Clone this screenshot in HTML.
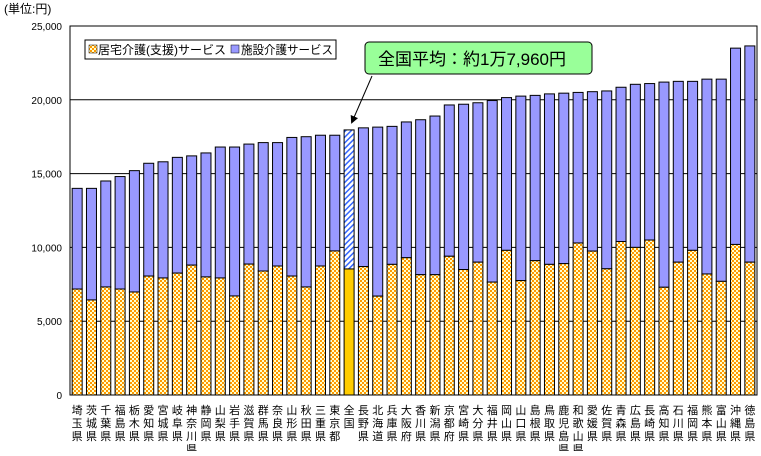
<!DOCTYPE html>
<html><head><meta charset="utf-8"><style>
body{margin:0;background:#fff;width:761px;height:451px;overflow:hidden;font-family:"Liberation Sans","Noto Sans CJK JP",sans-serif}
</style></head><body>
<svg id="chart" width="761" height="451" xmlns="http://www.w3.org/2000/svg" style="font-family:'Liberation Sans','Noto Sans CJK JP',sans-serif">
<defs>
<pattern id="chk" width="4" height="4" patternUnits="userSpaceOnUse"><rect width="4" height="4" fill="#ffffcc"/><rect width="2" height="2" fill="#ff9900"/><rect x="2" y="2" width="2" height="2" fill="#ff9900"/></pattern>
<pattern id="hat" width="4" height="4" patternUnits="userSpaceOnUse" patternTransform="rotate(45)"><rect width="4" height="4" fill="#fff"/><rect width="1.5" height="4" fill="#3366ff"/></pattern>
<marker id="ah" markerWidth="8" markerHeight="8" refX="6" refY="4" orient="auto"><path d="M0,0 L8,4 L0,8 z" fill="#000"/></marker>
</defs>
<text x="4" y="13" font-size="12">(単位:円)</text>
<g id="grid"></g><g id="bars"></g><g id="labels"></g>
<g>
<rect x="85" y="40" width="251" height="19" fill="#fff" stroke="#000"/>
<rect x="89" y="45" width="8" height="8" fill="url(#chk)" stroke="#000" stroke-width="0.5"/>
<text x="98" y="54" font-size="12" textLength="128" lengthAdjust="spacingAndGlyphs">居宅介護(支援)サービス</text>
<rect x="231" y="45" width="8" height="8" fill="#9999ff" stroke="#000" stroke-width="0.5"/>
<text x="241" y="54" font-size="12" textLength="92" lengthAdjust="spacingAndGlyphs">施設介護サービス</text>
</g>
<g>
<rect x="365" y="42" width="227" height="32" rx="4" fill="#99ff99" stroke="#000"/>
<text x="378" y="65" font-size="17">全国平均：約1万7,960円</text>
<line x1="372" y1="76" x2="352" y2="122" stroke="#000" marker-end="url(#ah)"/>
</g>
</svg>
<script>
const categories=["埼玉県","茨城県","千葉県","福島県","栃木県","愛知県","宮城県","岐阜県","神奈川県","静岡県","山梨県","岩手県","滋賀県","群馬県","奈良県","山形県","秋田県","三重県","東京都","全国","長野県","北海道","兵庫県","大阪府","香川県","新潟県","京都府","宮崎県","大分県","福井県","岡山県","山口県","島根県","鳥取県","鹿児島県","和歌山県","愛媛県","佐賀県","青森県","広島県","長崎県","高知県","石川県","福岡県","熊本県","富山県","沖縄県","徳島県"];
const totals=[14000,14000,14500,14800,15200,15700,15800,16100,16200,16400,16800,16800,17000,17100,17100,17450,17500,17600,17600,17960,18100,18150,18200,18500,18650,18900,19650,19700,19800,19950,20150,20250,20300,20400,20450,20500,20550,20600,20850,21050,21100,21200,21250,21250,21400,21400,23500,23650];
const homeCare=[7180,6440,7320,7180,6980,8060,7930,8260,8800,8000,7930,6710,8870,8400,8740,8060,7320,8740,9760,8540,8700,6700,8850,9300,8150,8150,9400,8500,9000,7650,9800,7750,9100,8850,8900,10300,9750,8550,10400,10000,10500,7300,9000,9800,8200,7700,10200,9000];
const yTicks=[0,5000,10000,15000,20000,25000];
const NS="http://www.w3.org/2000/svg";
const L=70,R=757,T=26,B=395,YMAX=25000;
const y=v=>B-(v/YMAX)*(B-T);
const step=(R-L)/categories.length;
const x=i=>L+i*step;
function mk(t,a,p){const e=document.createElementNS(NS,t);for(const k in a)e.setAttribute(k,a[k]);p.appendChild(e);return e;}
const g=document.getElementById('grid'),bg=document.getElementById('bars'),lg=document.getElementById('labels');
yTicks.forEach(v=>{
 if(v>0&&v<YMAX){const l=mk('line',{x1:L,x2:R,y1:y(v),y2:y(v),stroke:'#000'},g);
 
 }
 const t=mk('text',{x:62,y:y(v)+4,'font-size':10,'text-anchor':'end'},g);t.textContent=v.toLocaleString('en-US');
 
 
});
const frame=mk('rect',{x:L,y:T,width:R-L,height:B-T,fill:'none',stroke:'#000'},g);


categories.forEach((c,i)=>{
 const bw=10,bx=x(i)+(step-bw)/2,nat=c==='全国';
 const f=mk('rect',{x:bx,y:y(totals[i]),width:bw,height:y(homeCare[i])-y(totals[i]),fill:nat?'url(#hat)':'#9999ff',stroke:'#000','stroke-width':1},bg);
 
 
 const h=mk('rect',{x:bx,y:y(homeCare[i]),width:bw,height:B-y(homeCare[i]),fill:nat?'#ffcc00':'url(#chk)',stroke:'#000','stroke-width':1},bg);
 
 
 const t=mk('text',{'font-size':11,'text-anchor':'middle'},lg);
 
 
 [...c].forEach((ch,k)=>{const s=mk('tspan',{x:x(i)+step/2,y:414+k*13},t);s.textContent=ch;});
});
</script>
</body></html>
